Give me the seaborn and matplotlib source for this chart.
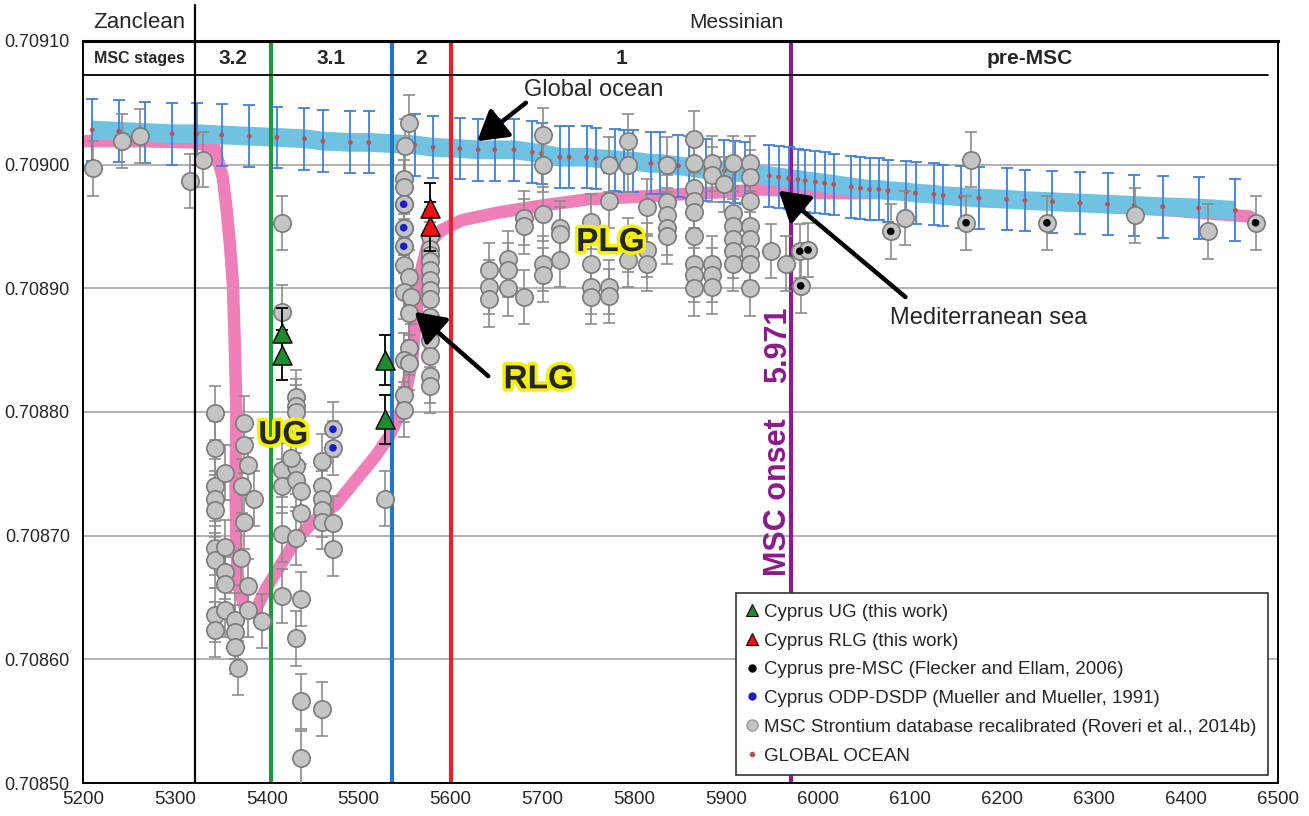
import numpy as np
import pandas as pd
import matplotlib
matplotlib.use("Agg")
import matplotlib.pyplot as plt
import matplotlib.patheffects as pe
from matplotlib.lines import Line2D
from matplotlib.ticker import MultipleLocator, FormatStrFormatter
import seaborn as sns

sns.set_style("white")
plt.rcParams['font.family'] = ['Liberation Sans', 'DejaVu Sans']

# ---------------- data ----------------
# Global ocean curve (age in kyr, 87Sr/86Sr)
GO_AGE = [5210, 5239, 5268, 5297, 5324, 5351, 5381, 5411, 5441, 5461, 5491, 5511,
          5561, 5581, 5610, 5630, 5648, 5669, 5689, 5699, 5719, 5729, 5748, 5758,
          5779, 5789, 5798, 5818, 5828, 5848, 5859, 5878, 5898, 5909, 5920, 5947,
          5957, 5968, 5978, 5986, 5997, 6007, 6017, 6036, 6046, 6056, 6066, 6076,
          6096, 6106, 6126, 6136, 6155, 6175, 6205, 6225, 6255, 6285, 6315, 6344,
          6375, 6414, 6454]
GO_SR = [0.709028, 0.709027, 0.709026, 0.709025, 0.709025, 0.709024, 0.709023, 0.709022,
         0.709021, 0.709019, 0.709018, 0.709018, 0.709016, 0.709014, 0.709013, 0.709012,
         0.709012, 0.709012, 0.709010, 0.709009, 0.709006, 0.709006, 0.709006, 0.709005,
         0.709004, 0.709003, 0.709003, 0.709001, 0.709001, 0.708999, 0.708998, 0.708996,
         0.708995, 0.708994, 0.708993, 0.708991, 0.708990, 0.708989, 0.708988, 0.708987,
         0.708986, 0.708985, 0.708984, 0.708982, 0.708981, 0.708980, 0.708980, 0.708979,
         0.708978, 0.708977, 0.708976, 0.708975, 0.708974, 0.708973, 0.708972, 0.708971,
         0.708970, 0.708969, 0.708968, 0.708967, 0.708966, 0.708965, 0.708963]
GO_ERR = 0.000025

# Mediterranean sea curve
MED_AGE = [5200, 5260, 5320, 5343, 5352, 5356, 5360, 5363, 5365, 5367, 5366, 5367,
           5369, 5376, 5388, 5399, 5414, 5432, 5453, 5475, 5497, 5518, 5533, 5547,
           5558, 5563, 5568, 5575, 5590, 5612, 5650, 5700, 5750, 5826, 5900, 5940,
           6000, 6100, 6200, 6300, 6400, 6470]
MED_SR = [0.709019, 0.709019, 0.709018, 0.709014, 0.708990, 0.708966, 0.708935, 0.708905,
          0.708860, 0.708800, 0.708740, 0.708690, 0.708660, 0.708642, 0.708640, 0.708657,
          0.708675, 0.708697, 0.708713, 0.708725, 0.708745, 0.708764, 0.708780, 0.708802,
          0.708840, 0.708880, 0.708915, 0.708935, 0.708947, 0.708955, 0.708961, 0.708967,
          0.708972, 0.708975, 0.708978, 0.708980, 0.708977, 0.708977, 0.708974, 0.708968,
          0.708962, 0.708958]

# MSC Strontium database (Roveri et al., 2014b)
DB_ZANCL_AGE = [5211, 5242, 5262, 5316, 5331]
DB_ZANCL_SR = [0.708997, 0.709019, 0.709023, 0.708987, 0.709004]

DB_UG_AGE = [5344, 5344, 5344, 5344, 5344, 5344, 5344, 5344, 5344,
             5355, 5355, 5355, 5355, 5355,
             5365, 5365, 5365, 5369, 5372,
             5375, 5375, 5373, 5375,
             5380, 5380, 5380, 5386, 5395,
             5417, 5417, 5417, 5417, 5417, 5417,
             5432, 5432, 5432, 5432, 5432, 5432, 5432, 5426,
             5437, 5437, 5437, 5437, 5437,
             5460, 5460, 5460, 5460, 5460, 5460,
             5472, 5472, 5529]
DB_UG_SR = [0.708799, 0.708771, 0.708740, 0.708730, 0.708721, 0.708690, 0.708680, 0.708636, 0.708624,
            0.708751, 0.708691, 0.708671, 0.708661, 0.708640,
            0.708632, 0.708622, 0.708610, 0.708593, 0.708682,
            0.708791, 0.708773, 0.708740, 0.708711,
            0.708757, 0.708659, 0.708640, 0.708730, 0.708631,
            0.708953, 0.708881, 0.708753, 0.708740, 0.708701, 0.708651,
            0.708812, 0.708805, 0.708800, 0.708756, 0.708745, 0.708698, 0.708617, 0.708763,
            0.708736, 0.708718, 0.708649, 0.708566, 0.708520,
            0.708760, 0.708740, 0.708730, 0.708721, 0.708711, 0.708560,
            0.708710, 0.708689, 0.708730]

DB_RLG_AGE = [5555, 5550, 5549, 5549, 5549, 5549, 5549, 5555, 5549, 5557, 5555, 5555,
              5549, 5555, 5549, 5549,
              5578, 5578, 5578, 5578, 5578, 5578, 5578, 5578, 5578, 5578, 5578, 5578,
              5578, 5578]
DB_RLG_SR = [0.709034, 0.709015, 0.708988, 0.708982, 0.708968, 0.708949, 0.708919, 0.708909,
             0.708897, 0.708893, 0.708880, 0.708852, 0.708842, 0.708840, 0.708814, 0.708802,
             0.708942, 0.708932, 0.708927, 0.708922, 0.708915, 0.708907, 0.708899, 0.708891,
             0.708877, 0.708869, 0.708858, 0.708845, 0.708829, 0.708821]

DB_PLG_AGE = [5642, 5642, 5642, 5662, 5662, 5662, 5680, 5680, 5680,
              5701, 5701, 5701, 5701, 5701, 5719, 5719, 5719,
              5753, 5753, 5753, 5753, 5772, 5772, 5772, 5772,
              5793, 5793, 5793, 5793, 5814, 5814, 5814,
              5835, 5835, 5835, 5835, 5835,
              5865, 5865, 5865, 5865, 5865, 5865, 5865, 5865, 5865,
              5884, 5884, 5884, 5884, 5884, 5898,
              5907, 5907, 5907, 5907, 5907, 5907,
              5926, 5926, 5926, 5926, 5926, 5926, 5926, 5926,
              5949, 5965]
DB_PLG_SR = [0.708915, 0.708901, 0.708891, 0.708924, 0.708915, 0.708900, 0.708957, 0.708950, 0.708893,
             0.709024, 0.709000, 0.708960, 0.708920, 0.708911, 0.708949, 0.708944, 0.708923,
             0.708954, 0.708920, 0.708901, 0.708893, 0.709000, 0.708971, 0.708901, 0.708894,
             0.709019, 0.709000, 0.708935, 0.708923, 0.708966, 0.708931, 0.708920,
             0.709000, 0.708970, 0.708959, 0.708949, 0.708942,
             0.709021, 0.709001, 0.708981, 0.708971, 0.708962, 0.708942, 0.708920, 0.708911, 0.708900,
             0.709001, 0.708992, 0.708920, 0.708911, 0.708901, 0.708984,
             0.709001, 0.708961, 0.708950, 0.708940, 0.708930, 0.708920,
             0.709001, 0.708990, 0.708971, 0.708950, 0.708940, 0.708928, 0.708920, 0.708900,
             0.708930, 0.708920]

DB_PRE_AGE = [6095, 6166, 6345, 6424]
DB_PRE_SR = [0.708957, 0.709004, 0.708959, 0.708946]
DB_ERR = 0.000022

# Cyprus pre-MSC (Flecker and Ellam, 2006)
PRE_AGE = [5980, 5989, 5981, 6079, 6161, 6249, 6476]
PRE_SR = [0.708930, 0.708931, 0.708902, 0.708946, 0.708953, 0.708953, 0.708953]

# Cyprus ODP-DSDP (Mueller and Mueller, 1991)
ODP_AGE = [5549, 5549, 5549, 5472, 5472]
ODP_SR = [0.708968, 0.708949, 0.708934, 0.708786, 0.708771]

# Cyprus UG / RLG (this work)
UG_AGE = [5417, 5417, 5529, 5529]
UG_SR = [0.708864, 0.708846, 0.708842, 0.708794]
RLG_AGE = [5578, 5578]
RLG_SR = [0.708965, 0.708950]
CY_ERR = 0.00002

# Stage boundaries
BOUND_AGE = [5322, 5405, 5536, 5600, 5971]
BOUND_COL = ['black', '#1f9a3b', '#1f78c8', '#e8202a', '#8e1a8e']
STAGE_LABELS = ['MSC stages', '3.2', '3.1', '2', '1', 'pre-MSC']
STAGE_EDGES = [5200, 5322, 5405, 5536, 5600, 5971, 6490]

# ---------------- figure ----------------
fig = plt.figure(figsize=(13.09, 8.16), dpi=100)
ax = fig.add_axes([0.0634, 0.0404, 0.9126, 0.9094])
ax.set_xlim(5200, 6500)
ax.set_ylim(0.70850, 0.70910)

ax.yaxis.set_major_locator(MultipleLocator(0.0001))
ax.yaxis.set_major_formatter(FormatStrFormatter('%.5f'))
ax.xaxis.set_major_locator(MultipleLocator(100))
ax.xaxis.set_minor_locator(MultipleLocator(50))
ax.tick_params(axis='y', which='major', direction='out', length=6, width=1.2, labelsize=13)
ax.tick_params(axis='x', which='major', direction='out', length=0, labelsize=13.5, pad=6)
ax.tick_params(axis='x', which='minor', direction='out', length=5, width=1.2)
ax.yaxis.grid(True, color='#a5a5a5', lw=1.2)
ax.set_axisbelow(True)
for s in ax.spines.values():
    s.set_color('black')
    s.set_linewidth(1.4)
ax.spines['top'].set_linewidth(2.2)

# Mediterranean and global ocean bands
sns.lineplot(x=MED_AGE, y=MED_SR, sort=False, estimator=None, color='#ef7fb9', lw=9,
             ax=ax, zorder=1.6, solid_capstyle='round', solid_joinstyle='round')
sns.lineplot(x=GO_AGE, y=GO_SR, sort=False, estimator=None, color='#6fc3e1', lw=13.5,
             ax=ax, zorder=1.8, solid_capstyle='butt')

# stage boundary lines
for a, c in zip(BOUND_AGE, BOUND_COL):
    if c == 'black':
        ax.plot([a, a], [0.70850, 0.709129], color=c, lw=1.6, clip_on=False, zorder=6)
    else:
        ax.plot([a, a], [0.70850, 0.70910], color=c, lw=3, zorder=2.5)

# global ocean
ax.errorbar(GO_AGE, GO_SR, yerr=GO_ERR, fmt='none', ecolor='#3d7fe6', elinewidth=1.3,
            capsize=4.5, capthick=1.3, zorder=3)
sns.scatterplot(x=GO_AGE, y=GO_SR, color='#c0504d', s=12, edgecolor='none', ax=ax,
                zorder=3.1, legend=False)

# database points
db_age = DB_ZANCL_AGE + DB_UG_AGE + DB_RLG_AGE + DB_PLG_AGE + DB_PRE_AGE + PRE_AGE + ODP_AGE
db_sr = DB_ZANCL_SR + DB_UG_SR + DB_RLG_SR + DB_PLG_SR + DB_PRE_SR + PRE_SR + ODP_SR
ax.errorbar(db_age, db_sr, yerr=DB_ERR, fmt='none', ecolor='#8c8c8c', elinewidth=1.2,
            capsize=4.5, capthick=1.2, zorder=4)
sns.scatterplot(x=db_age, y=db_sr, color='#c4c4c4', s=155, edgecolor='#7a7a7a',
                linewidth=1.2, ax=ax, zorder=4.5, legend=False)
sns.scatterplot(x=PRE_AGE, y=PRE_SR, color='black', s=30, edgecolor='none', ax=ax,
                zorder=4.7, legend=False)
sns.scatterplot(x=ODP_AGE, y=ODP_SR, color='#1620c8', s=30, edgecolor='none', ax=ax,
                zorder=4.7, legend=False)

# Cyprus this work
ax.errorbar(UG_AGE + RLG_AGE, UG_SR + RLG_SR, yerr=CY_ERR, fmt='none', ecolor='black',
            elinewidth=1.3, capsize=4.5, capthick=1.3, zorder=5)
sns.scatterplot(x=UG_AGE, y=UG_SR, marker='^', color='#1c8c2c', s=190, edgecolor='black',
                linewidth=1.0, ax=ax, zorder=5.2, legend=False)
sns.scatterplot(x=RLG_AGE, y=RLG_SR, marker='^', color='#f01010', s=190, edgecolor='black',
                linewidth=1.0, ax=ax, zorder=5.2, legend=False)

# header row
ax.plot([5200, 6490], [0.7090725, 0.7090725], color='black', lw=1.3, zorder=6)
for i, lab in enumerate(STAGE_LABELS):
    xc = 0.5 * (STAGE_EDGES[i] + STAGE_EDGES[i + 1])
    fs = 11.5 if i == 0 else 15
    ax.text(xc, 0.7090862, lab, ha='center', va='center', fontsize=fs, fontweight='bold',
            zorder=7)
ax.text(5261, 0.709115, 'Zanclean', ha='center', va='center', fontsize=16)
ax.text(5911, 0.709115, 'Messinian', ha='center', va='center', fontsize=15)

# annotations
arrow = dict(arrowstyle='-|>,head_length=1.0,head_width=0.6', lw=3.2, color='black',
             shrinkA=0, shrinkB=0, mutation_scale=18)
ax.annotate('', xy=(5629, 0.709019), xytext=(5682, 0.709050), arrowprops=arrow, zorder=8)
ax.text(5680, 0.709060, 'Global ocean', ha='left', va='center', fontsize=17, zorder=8)
ax.annotate('', xy=(5957, 0.708979), xytext=(6095, 0.708893), arrowprops=arrow, zorder=8)
ax.text(6078, 0.708876, 'Mediterranean sea', ha='left', va='center', fontsize=17, zorder=8)
ax.annotate('', xy=(5561, 0.708881), xytext=(5641, 0.708829), arrowprops=arrow, zorder=8)

glow = [pe.withStroke(linewidth=5, foreground='#f6f300')]
ax.text(5696, 0.708826, 'RLG', ha='center', va='center', fontsize=24, fontweight='bold',
        path_effects=glow, zorder=8)
ax.text(5418, 0.708781, 'UG', ha='center', va='center', fontsize=24, fontweight='bold',
        path_effects=glow, zorder=8)
ax.text(5774, 0.708937, 'PLG', ha='center', va='center', fontsize=24, fontweight='bold',
        path_effects=glow, zorder=8)

ax.text(5956, 0.708854, '5.971', rotation=90, ha='center', va='center', fontsize=22,
        fontweight='bold', color='#8b1a8b', zorder=8)
ax.text(5956, 0.708731, 'MSC onset', rotation=90, ha='center', va='center', fontsize=22,
        fontweight='bold', color='#8b1a8b', zorder=8)

# legend
handles = [
    Line2D([], [], ls='none', marker='^', ms=8, mfc='#1c8c2c', mec='black', mew=0.8),
    Line2D([], [], ls='none', marker='^', ms=8, mfc='#f01010', mec='black', mew=0.8),
    Line2D([], [], ls='none', marker='o', ms=5, mfc='black', mec='black'),
    Line2D([], [], ls='none', marker='o', ms=5, mfc='#1620c8', mec='#1620c8'),
    Line2D([], [], ls='none', marker='o', ms=8, mfc='#c4c4c4', mec='#9a9a9a'),
    Line2D([], [], ls='none', marker='o', ms=3, mfc='#c0504d', mec='#c0504d'),
]
labels = ['Cyprus UG (this work)', 'Cyprus RLG (this work)',
          'Cyprus pre-MSC (Flecker and Ellam, 2006)', 'Cyprus ODP-DSDP (Mueller and Mueller, 1991)',
          'MSC Strontium database recalibrated (Roveri et al., 2014b)', 'GLOBAL OCEAN']
leg = ax.legend(handles, labels, loc='lower left', bbox_to_anchor=(0.547, 0.011, 0.445, 0.249),
                mode='expand', borderaxespad=0, fontsize=13.5, frameon=True, fancybox=False,
                edgecolor='#333333', framealpha=1, handlelength=0.6, handletextpad=0.3,
                labelspacing=0.62, borderpad=0.55)
leg.get_frame().set_linewidth(1.2)
leg.set_zorder(10)

fig.savefig('out.png', dpi=100)
